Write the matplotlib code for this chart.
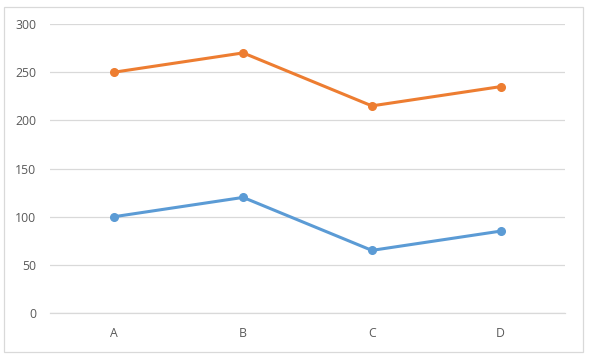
import matplotlib.pyplot as plt
from matplotlib.patches import Rectangle

categories = ['A', 'B', 'C', 'D']
series1 = [100, 120, 65, 85]
series2 = [250, 270, 215, 235]

W, H = 591, 359
fig = plt.figure(figsize=(W / 100, H / 100), dpi=100)
plt.rcParams['font.family'] = ['Open Sans', 'DejaVu Sans']

ax = fig.add_axes([50 / W, (H - 313) / H, (565 - 50) / W, (313 - 24) / H])

x = range(len(categories))
ax.plot(x, series1, color='#5B9BD5', lw=2.2, marker='o', ms=5.5, zorder=3)
ax.plot(x, series2, color='#ED7D31', lw=2.2, marker='o', ms=5.5, zorder=3)

ax.set_xlim(-0.5, len(categories) - 0.5)
ax.set_ylim(0, 300)
ax.set_yticks(range(0, 301, 50))
ax.set_xticks(list(x))
ax.set_xticklabels(categories)

ax.grid(axis='y', color='#D9D9D9', lw=0.9)
ax.set_axisbelow(True)
for s in ['top', 'right', 'left']:
    ax.spines[s].set_visible(False)
ax.spines['bottom'].set_color('#D9D9D9')
ax.spines['bottom'].set_linewidth(0.9)
ax.tick_params(length=0, labelsize=8.8, colors='#595959')
ax.tick_params(axis='y', pad=10)
ax.tick_params(axis='x', pad=10)

fig.patches.append(Rectangle((4 / W, (H - 352) / H), (583 - 4) / W, (352 - 7) / H,
                             transform=fig.transFigure, fill=False,
                             edgecolor='#D9D9D9', lw=0.9))

fig.savefig('out.png', dpi=100)
